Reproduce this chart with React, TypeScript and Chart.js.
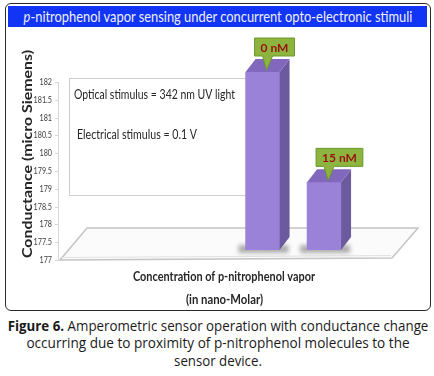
import React, { useEffect, useRef } from "react";
import { Chart, registerables } from "chart.js";
Chart.register(...registerables);

const categories = ["0 nM", "15 nM"];
const conductance = [182.0, 178.9];
const yMin = 177;
const yMax = 182;
const yStep = 0.5;
const titleItalic = "p";
const titleRest = "-nitrophenol vapor sensing under concurrent opto-electronic stimuli";
const yTitle = "Conductance (micro Siemens)";
const xTitle = ["Concentration of p-nitrophenol vapor", "(in nano-Molar)"];
const notes = ["Optical stimulus = 342 nm UV light", "Electrical stimulus = 0.1 V"];
const captionLead = "Figure 6.";
const captionLines = [
  " Amperometric sensor operation with conductance change",
  "occurring due to proximity of p-nitrophenol molecules to the",
  "sensor device.",
];

const FONT = "Lato, sans-serif";
const DX = 10;
const DY = -13;

function fitText(ctx: CanvasRenderingContext2D, text: string, x: number, y: number, width: number, align: CanvasTextAlign) {
  const w = ctx.measureText(text).width || 1;
  ctx.save();
  ctx.translate(x, y);
  ctx.scale(width / w, 1);
  ctx.textAlign = align;
  ctx.fillText(text, 0, 0);
  ctx.restore();
}

function scaleText(ctx: CanvasRenderingContext2D, text: string, x: number, y: number, sx: number, align: CanvasTextAlign) {
  ctx.save();
  ctx.translate(x, y);
  ctx.scale(sx, 1);
  ctx.textAlign = align;
  ctx.fillText(text, 0, 0);
  ctx.restore();
}

const threeD = {
  id: "threeD",
  beforeDatasetsDraw(chart: any) {
    const ctx = chart.ctx;
    const a = chart.chartArea;
    ctx.save();
    // notes box
    ctx.fillStyle = "#ffffff";
    ctx.strokeStyle = "#cfcfcf";
    ctx.lineWidth = 1;
    ctx.fillRect(a.left + 9, a.top + 6, 182, 117);
    ctx.strokeRect(a.left + 9.5, a.top + 6.5, 182, 117);
    ctx.fillStyle = "#262626";
    ctx.font = "13px " + FONT;
    ctx.textBaseline = "middle";
    fitText(ctx, notes[0], a.left + 14, a.top + 23, 161, "left");
    fitText(ctx, notes[1], a.left + 17, a.top + 63, 120, "left");
    // floor
    const fb = a.bottom + 10;
    const bb = a.bottom - 22;
    ctx.beginPath();
    ctx.moveTo(a.left, fb);
    ctx.lineTo(a.left + 27, bb);
    ctx.lineTo(a.right + 26, bb);
    ctx.lineTo(a.right, fb - 2);
    ctx.closePath();
    ctx.fillStyle = "#fbfbfb";
    ctx.fill();
    ctx.strokeStyle = "#c4c4c4";
    ctx.lineWidth = 1.5;
    ctx.stroke();
    ctx.beginPath();
    ctx.moveTo(a.left + 2, fb - 2.5);
    ctx.lineTo(a.right - 1, fb - 4.5);
    ctx.strokeStyle = "#e2e2e2";
    ctx.lineWidth = 1;
    ctx.stroke();
    // axis line, ticks and tick labels
    const ys = chart.scales.y;
    ctx.strokeStyle = "#d6d6d6";
    ctx.beginPath();
    ctx.moveTo(a.left - 1.5, ys.getPixelForValue(yMax) + 10);
    ctx.lineTo(a.left - 1.5, ys.getPixelForValue(yMin) + 10);
    ys.ticks.forEach((t: any) => {
      const p = Math.round(ys.getPixelForValue(t.value) + 10) + 0.5;
      ctx.moveTo(a.left - 5, p);
      ctx.lineTo(a.left - 1.5, p);
    });
    ctx.stroke();
    ctx.fillStyle = "#3c3c3c";
    ctx.font = "9px " + FONT;
    ctx.textBaseline = "middle";
    ys.ticks.forEach((t: any) => {
      const p = ys.getPixelForValue(t.value) + 10;
      scaleText(ctx, String(t.value), a.left - 8, p, 0.8, "right");
    });
    // bar shadows
    const meta = chart.getDatasetMeta(0);
    meta.data.forEach((bar: any) => {
      const w = bar.width;
      ctx.save();
      ctx.filter = "blur(2px)";
      ctx.fillStyle = "rgba(110,110,110,0.55)";
      ctx.fillRect(bar.x - w / 2 - 7, a.bottom - 5, w + 16, 8);
      ctx.restore();
    });
    ctx.restore();
  },
  afterDatasetsDraw(chart: any) {
    const ctx = chart.ctx;
    const a = chart.chartArea;
    const meta = chart.getDatasetMeta(0);
    ctx.save();
    meta.data.forEach((bar: any, i: number) => {
      const w = bar.width;
      const l = bar.x - w / 2;
      const r = bar.x + w / 2;
      const t = bar.y;
      const b = a.bottom;
      ctx.beginPath();
      ctx.moveTo(r, t);
      ctx.lineTo(r + DX, t + DY);
      ctx.lineTo(r + DX, b + DY);
      ctx.lineTo(r, b);
      ctx.closePath();
      ctx.fillStyle = "#6c5a9e";
      ctx.fill();
      ctx.beginPath();
      ctx.moveTo(l, t);
      ctx.lineTo(l + DX, t + DY);
      ctx.lineTo(r + DX, t + DY);
      ctx.lineTo(r, t);
      ctx.closePath();
      ctx.fillStyle = "#8268bd";
      ctx.fill();
      // callout
      const label = chart.data.labels[i];
      ctx.font = "bold 12px " + FONT;
      const tw = ctx.measureText(label).width;
      const bw = tw + 12;
      const bh = 18;
      const tipX = bar.x + 4;
      const tipY = t - 2;
      const bx = bar.x - 8;
      const by = tipY - 14 - bh;
      ctx.beginPath();
      ctx.moveTo(bx, by);
      ctx.lineTo(bx + bw, by);
      ctx.lineTo(bx + bw, by + bh);
      ctx.lineTo(tipX + 6, by + bh);
      ctx.lineTo(tipX, tipY);
      ctx.lineTo(tipX - 4, by + bh);
      ctx.lineTo(bx, by + bh);
      ctx.closePath();
      ctx.fillStyle = "#8db43f";
      ctx.fill();
      ctx.strokeStyle = "#6a9a2c";
      ctx.lineWidth = 1;
      ctx.stroke();
      ctx.fillStyle = "#9a1010";
      ctx.textAlign = "center";
      ctx.textBaseline = "middle";
      ctx.fillText(label, bx + bw / 2, by + bh / 2 + 1);
    });
    ctx.restore();
  },
  afterDraw(chart: any) {
    const ctx = chart.ctx;
    const a = chart.chartArea;
    ctx.save();
    ctx.fillStyle = "#262626";
    ctx.textBaseline = "middle";
    ctx.font = "bold 13px " + FONT;
    fitText(ctx, xTitle[0], 224, a.bottom + 27, 182, "center");
    fitText(ctx, xTitle[1], 224.5, a.bottom + 50, 77, "center");
    ctx.translate(27, 154);
    ctx.rotate(-Math.PI / 2);
    ctx.font = "bold 14px " + FONT;
    fitText(ctx, yTitle, 0, 0, 208, "center");
    ctx.restore();
  },
};

export default function App() {
  const ref = useRef<HTMLCanvasElement | null>(null);
  const fitRefs = useRef<Array<HTMLSpanElement | null>>([]);
  const targets = [389, 421, 383, 88];

  useEffect(() => {
    document.body.style.margin = "0";
    const fit = () => {
      fitRefs.current.forEach((el, i) => {
        if (!el) return;
        const w = el.offsetWidth || 1;
        el.style.transform = `translateX(-50%) scaleX(${targets[i] / w})`;
      });
    };
    fit();
    const chart = new Chart(ref.current as HTMLCanvasElement, {
      type: "bar",
      data: {
        labels: categories,
        datasets: [
          {
            data: conductance.map((v, i) => ({ x: i, y: v })) as any,
            backgroundColor: "#9a82d8",
            borderWidth: 0,
            barThickness: 34,
          },
        ],
      },
      options: {
        responsive: false,
        animation: false,
        layout: { padding: { top: 72, right: 42, bottom: 62, left: 0 } },
        plugins: {
          legend: { display: false },
          tooltip: { enabled: false },
        },
        scales: {
          x: { type: "linear", min: -2.62, max: 1.43, display: false },
          y: {
            min: yMin,
            max: yMax,
            ticks: { stepSize: yStep, display: false },
            grid: { display: false },
            border: { display: false },
            afterFit: (s: any) => {
              s.width = 60;
            },
          },
        },
      } as any,
      plugins: [threeD],
    });
    let alive = true;
    (document as any).fonts?.ready?.then(() => {
      if (!alive) return;
      fit();
      chart.update();
    });
    return () => {
      alive = false;
      chart.destroy();
    };
  }, []);

  const span = (i: number, cx: number, content: React.ReactNode) => (
    <span
      ref={(el) => {
        fitRefs.current[i] = el;
      }}
      style={{
        position: "absolute",
        left: cx,
        top: 0,
        display: "inline-block",
        whiteSpace: "nowrap",
        transformOrigin: "50% 50%",
      }}
    >
      {content}
    </span>
  );

  const captionStyle: React.CSSProperties = {
    position: "absolute",
    left: 0,
    width: 434,
    fontFamily: '"Open Sans", sans-serif',
    fontSize: 14,
    lineHeight: "18px",
    height: 18,
    color: "#1a1a1a",
  };

  return (
    <div style={{ position: "fixed", left: 0, top: 0, width: 434, height: 376, background: "#fff", overflow: "hidden" }}>
      <div
        style={{
          position: "absolute",
          left: 5,
          top: 3,
          width: 424,
          height: 306,
          border: "1.5px solid #2a2a2a",
          borderRadius: 6,
        }}
      />
      <div
        style={{
          position: "absolute",
          left: 8,
          top: 6,
          width: 419,
          height: 21,
          background: "#1234f4",
          color: "#eef0ff",
          fontFamily: FONT,
          fontSize: 15,
          lineHeight: "21px",
          overflow: "hidden",
        }}
      >
        {span(0, 210, <><i>{titleItalic}</i>{titleRest}</>)}
      </div>
      <canvas ref={ref} width={434} height={312} style={{ position: "absolute", left: 0, top: 0 }} />
      <div style={{ ...captionStyle, top: 317 }}>
        {span(1, 217.5, <><b>{captionLead}</b>{captionLines[0]}</>)}
      </div>
      <div style={{ ...captionStyle, top: 334 }}>{span(2, 217.5, captionLines[1])}</div>
      <div style={{ ...captionStyle, top: 352 }}>{span(3, 218, captionLines[2])}</div>
    </div>
  );
}
